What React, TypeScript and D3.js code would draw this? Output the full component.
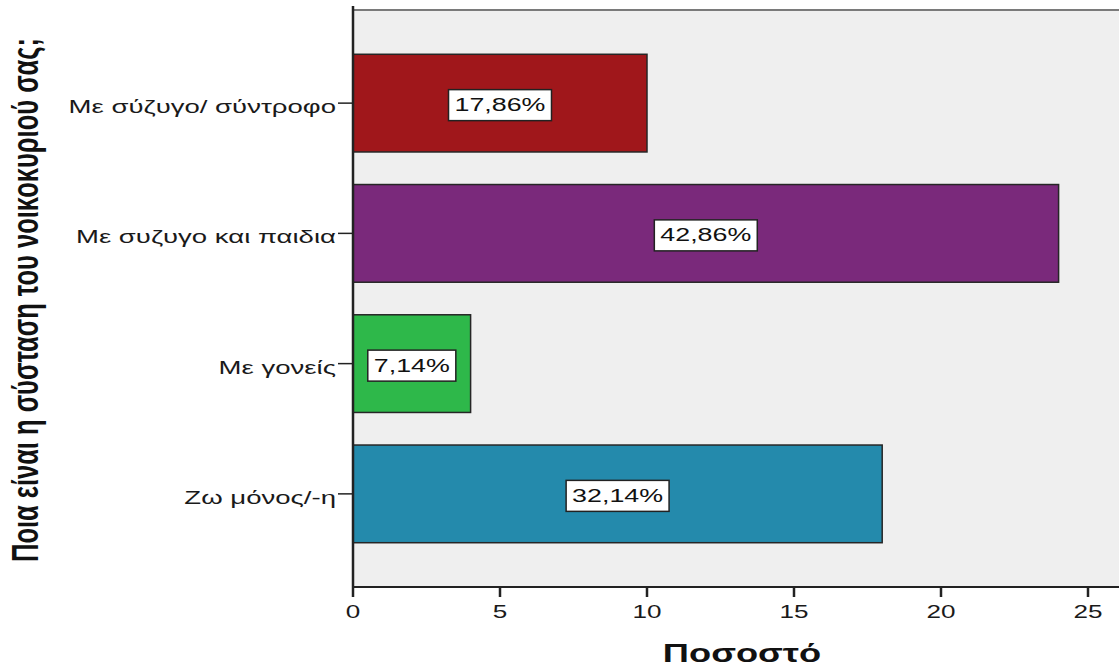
import React, { useEffect, useRef } from "react";
import * as d3 from "d3";

// Household composition: respondents per category
const categories = ["Με σύζυγο/ σύντροφο", "Με συζυγο και παιδια", "Με γονείς", "Ζω μόνος/-η"];
const counts = [10, 24, 4, 18];
const barColors = ["#a0171b", "#7a297b", "#2eb84a", "#248aac"];
const xTicks = [0, 5, 10, 15, 20, 25];
const yTitle = "Ποια είναι η σύσταση του νοικοκυριού σας;";
const xTitle = "Ποσοστό";

const W = 1119;
const H = 668;
const SX = 1.45; // horizontal glyph stretch
const FONT = "'Liberation Sans', Arial, sans-serif";

export default function App() {
  const ref = useRef<SVGSVGElement | null>(null);

  useEffect(() => {
    const svg = d3.select(ref.current);
    svg.selectAll("*").remove();

    const left = 353;
    const top = 10;
    const bottom = 587;
    const x = d3.scaleLinear().domain([0, 25]).range([left, 1088]);
    const y = d3
      .scaleBand<string>()
      .domain(categories)
      .range([top, bottom])
      .paddingInner(0.25)
      .paddingOuter(0.34);

    const total = d3.sum(counts);
    const fmt = (v: number) => (v / total * 100).toFixed(2).replace(".", ",") + "%";

    // plot background
    svg.append("rect")
      .attr("x", left).attr("y", top)
      .attr("width", x(27) - left).attr("height", bottom - top)
      .attr("fill", "#efefef");
    svg.append("line")
      .attr("x1", left).attr("x2", x(27))
      .attr("y1", top).attr("y2", top)
      .attr("stroke", "#7a7a7a").attr("stroke-width", 2);

    // bars
    svg.selectAll("rect.bar")
      .data(counts)
      .join("rect")
      .attr("class", "bar")
      .attr("x", x(0))
      .attr("y", (_, i) => y(categories[i])!)
      .attr("width", (d) => x(d) - x(0))
      .attr("height", y.bandwidth())
      .attr("fill", (_, i) => barColors[i])
      .attr("stroke", "#262626")
      .attr("stroke-width", 1.5);

    // value labels in boxes
    counts.forEach((d, i) => {
      const cx = (x(0) + x(d)) / 2;
      const cy = y(categories[i])! + y.bandwidth() / 2;
      const g = svg.append("g").attr("transform", `translate(${cx},${cy})`);
      const rect = g.append("rect");
      const t = g.append("g").attr("transform", `scale(${SX},1)`)
        .append("text")
        .attr("text-anchor", "middle")
        .attr("y", 8)
        .attr("font-family", FONT)
        .attr("font-size", 18.5)
        .attr("fill", "#111")
        .text(fmt(d));
      const len = (t.node() as SVGTextElement).getComputedTextLength() * SX;
      const bw = len + 12;
      const bh = 31;
      rect.attr("x", -bw / 2).attr("y", -bh / 2 + 2)
        .attr("width", bw).attr("height", bh)
        .attr("fill", "#fff").attr("stroke", "#222").attr("stroke-width", 1.5);
    });

    // y axis
    svg.append("line")
      .attr("x1", left).attr("x2", left)
      .attr("y1", 6).attr("y2", bottom)
      .attr("stroke", "#222").attr("stroke-width", 2.5);
    categories.forEach((c) => {
      const cy = y(c)! + y.bandwidth() / 2;
      svg.append("line")
        .attr("x1", left - 15).attr("x2", left)
        .attr("y1", cy).attr("y2", cy)
        .attr("stroke", "#222").attr("stroke-width", 1.5);
      svg.append("g").attr("transform", `translate(${left - 17},${cy + 10}) scale(${SX},1)`)
        .append("text")
        .attr("text-anchor", "end")
        .attr("font-family", FONT)
        .attr("font-size", 19)
        .attr("fill", "#1a1a1a")
        .text(c);
    });

    // x axis
    svg.append("line")
      .attr("x1", left).attr("x2", W + 10)
      .attr("y1", bottom).attr("y2", bottom)
      .attr("stroke", "#222").attr("stroke-width", 2);
    xTicks.forEach((v) => {
      svg.append("line")
        .attr("x1", x(v)).attr("x2", x(v))
        .attr("y1", bottom).attr("y2", bottom + 10)
        .attr("stroke", "#222").attr("stroke-width", 2.5);
      svg.append("g").attr("transform", `translate(${x(v)},${618}) scale(${SX},1)`)
        .append("text")
        .attr("text-anchor", "middle")
        .attr("font-family", FONT)
        .attr("font-size", 18)
        .attr("fill", "#1a1a1a")
        .text(String(v));
    });

    // axis titles
    svg.append("g").attr("transform", `translate(742,662) scale(${SX},1)`)
      .append("text")
      .attr("text-anchor", "middle")
      .attr("font-family", FONT)
      .attr("font-weight", "bold")
      .attr("font-size", 25)
      .attr("fill", "#111")
      .text(xTitle);
    svg.append("g").attr("transform", `translate(38,300) scale(${SX},1) rotate(-90)`)
      .append("text")
      .attr("text-anchor", "middle")
      .attr("font-family", FONT)
      .attr("font-weight", "bold")
      .attr("font-size", 25.5)
      .attr("fill", "#111")
      .text(yTitle);
  }, []);

  return (
    <svg
      ref={ref}
      width={W}
      height={H}
      style={{ position: "absolute", left: 0, top: 0, background: "#fff", overflow: "hidden" }}
    />
  );
}
